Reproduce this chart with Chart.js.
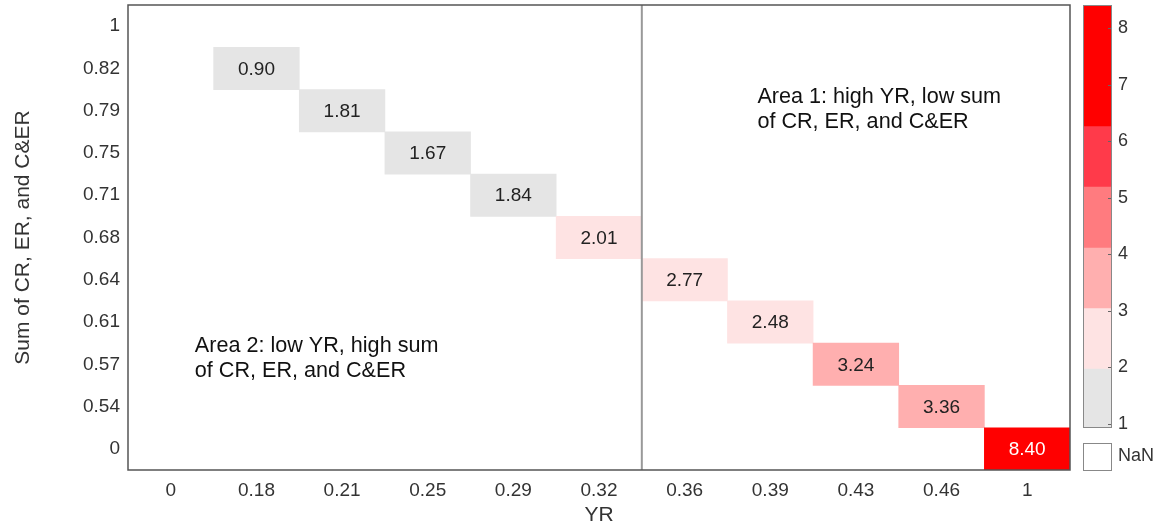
<!DOCTYPE html>
<html>
<head>
<meta charset="utf-8">
<script src="https://cdn.jsdelivr.net/npm/chart.js@4.4.1/dist/chart.umd.min.js"></script>
<style>
  body { margin: 0; background: #fff; }
  #wrap { position: relative; width: 1157px; height: 531px; font-family: "Liberation Sans", Arial, sans-serif; }
  #heat { position: absolute; left: 0; top: 0; }
  #bar { position: absolute; left: 1083px; top: 0; }
  #nanBox { position: absolute; left: 1083px; top: 443px; width: 27px; height: 26px; border: 1px solid #888; background: #fff; }
  #nanText { position: absolute; left: 1118px; top: 445px; font-size: 18px; color: #333; }
</style>
</head>
<body>
<div id="wrap">
  <canvas id="heat" width="1157" height="531"></canvas>
  <canvas id="bar" width="74" height="531"></canvas>
  <div id="nanBox"></div>
  <div id="nanText">NaN</div>
</div>
<script>
// categories
var xLabels = ['0', '0.18', '0.21', '0.25', '0.29', '0.32', '0.36', '0.39', '0.43', '0.46', '1'];
var yLabels = ['0', '0.54', '0.57', '0.61', '0.64', '0.68', '0.71', '0.75', '0.79', '0.82', '1'];

// filled cells
var cellX = ['0.18', '0.21', '0.25', '0.29', '0.32', '0.36', '0.39', '0.43', '0.46', '1'];
var cellY = ['0.82', '0.79', '0.75', '0.71', '0.68', '0.64', '0.61', '0.57', '0.54', '0'];
var cellValues = [0.90, 1.81, 1.67, 1.84, 2.01, 2.77, 2.48, 3.24, 3.36, 8.40];

// colour bar
var binEdges = [0.93, 1.97, 3.04, 4.11, 5.19, 6.26, 8.41];
var binColors = ['#e5e5e5', '#fee3e3', '#ffafaf', '#ff7b7f', '#ff3a4a', '#ff0000'];
var colorTicks = [1, 2, 3, 4, 5, 6, 7, 8];

var FONT = '"Liberation Sans", Arial, sans-serif';

function binColor(v) {
  for (var i = 0; i < binColors.length; i++) {
    if (v < binEdges[i + 1]) return binColors[i];
  }
  return binColors[binColors.length - 1];
}

var cells = cellX.map(function(x, i) {
  var yi = yLabels.indexOf(cellY[i]);
  return { x: x, y: [yi - 0.5, yi + 0.5], v: cellValues[i] };
});

var heatPlugin = {
  id: 'heatExtras',
  afterDatasetsDraw: function(chart) {
    var c = chart.ctx, area = chart.chartArea;
    var xs = chart.scales.x, ys = chart.scales.y;
    // value labels
    var meta = chart.getDatasetMeta(0);
    c.save();
    c.font = '19px ' + FONT;
    c.textAlign = 'center';
    c.textBaseline = 'middle';
    meta.data.forEach(function(el, i) {
      var v = cellValues[i];
      c.fillStyle = v > binEdges[5] ? '#ffffff' : '#222222';
      c.fillText(v.toFixed(2), el.x, (el.y + el.base) / 2 + 1);
    });
    // divider between low and high YR
    var xm = (xs.getPixelForTick(5) + xs.getPixelForTick(6)) / 2;
    c.strokeStyle = '#999999';
    c.lineWidth = 2;
    c.beginPath();
    c.moveTo(xm, area.top);
    c.lineTo(xm, area.bottom);
    c.stroke();
    // area notes
    c.font = '21.6px ' + FONT;
    c.fillStyle = '#111111';
    c.textAlign = 'left';
    var unit = xs.getPixelForTick(1) - xs.getPixelForTick(0);
    var x1 = xs.getPixelForTick(6) + 0.85 * unit;
    var y1 = ys.getPixelForValue(8.32);
    c.fillText('Area 1: high YR, low sum', x1, y1);
    c.fillText('of CR, ER, and C&ER', x1, y1 + 25);
    var x2 = xs.getPixelForTick(0) + 0.28 * unit;
    var y2 = ys.getPixelForValue(2.44);
    c.fillText('Area 2: low YR, high sum', x2, y2);
    c.fillText('of CR, ER, and C&ER', x2, y2 + 25);
    // frame
    c.strokeStyle = '#555555';
    c.lineWidth = 1.5;
    c.strokeRect(area.left, area.top, area.right - area.left, area.bottom - area.top);
    c.restore();
  }
};

new Chart(document.getElementById('heat'), {
  type: 'bar',
  data: {
    labels: xLabels,
    datasets: [{
      data: cells,
      backgroundColor: function(ctx) { return ctx.raw ? binColor(ctx.raw.v) : '#fff'; },
      borderWidth: 0,
      barPercentage: 1,
      categoryPercentage: 1
    }]
  },
  options: {
    responsive: false,
    animation: false,
    events: [],
    layout: { padding: { left: 0, right: 87, top: 5, bottom: 0 } },
    plugins: { legend: { display: false }, tooltip: { enabled: false } },
    scales: {
      x: {
        grid: { display: false, drawTicks: false },
        border: { display: false },
        ticks: { color: '#333', font: { family: FONT, size: 19 }, padding: 9, maxRotation: 0, autoSkip: false },
        title: { display: true, text: 'YR', color: '#333', font: { family: FONT, size: 21 }, padding: { top: 0, bottom: 3 } },
        afterFit: function(s) { s.height = 61; s.paddingLeft = 0; s.paddingRight = 0; }
      },
      y: {
        type: 'linear',
        min: -0.5,
        max: 10.5,
        grid: { display: false, drawTicks: false },
        border: { display: false },
        afterBuildTicks: function(s) { s.ticks = yLabels.map(function(_, i) { return { value: i }; }); },
        ticks: {
          color: '#333',
          font: { family: FONT, size: 19 },
          padding: 8,
          callback: function(v) { return yLabels[v]; }
        },
        title: { display: true, text: 'Sum of CR, ER, and C&ER', color: '#333', font: { family: FONT, size: 21 }, padding: { top: 11, bottom: 0 } },
        afterFit: function(s) { s.width = 128; s.paddingTop = 0; s.paddingBottom = 0; }
      }
    }
  },
  plugins: [heatPlugin]
});

// colour bar
var barPlugin = {
  id: 'barFrame',
  afterDraw: function(chart) {
    var c = chart.ctx, area = chart.chartArea, ys = chart.scales.y;
    c.save();
    c.strokeStyle = '#666666';
    c.lineWidth = 1;
    colorTicks.forEach(function(t) {
      var py = Math.round(ys.getPixelForValue(t)) + 0.5;
      c.beginPath();
      c.moveTo(area.right - 4, py);
      c.lineTo(area.right, py);
      c.stroke();
    });
    c.strokeStyle = '#888888';
    c.strokeRect(area.left + 0.5, area.top + 0.5, area.right - area.left - 1, area.bottom - area.top - 1);
    c.restore();
  }
};

new Chart(document.getElementById('bar'), {
  type: 'bar',
  data: {
    labels: ['c'],
    datasets: binColors.map(function(col, i) {
      return {
        data: [[binEdges[i], binEdges[i + 1]]],
        backgroundColor: col,
        borderWidth: 0,
        barPercentage: 1,
        categoryPercentage: 1,
        grouped: false
      };
    })
  },
  options: {
    responsive: false,
    animation: false,
    events: [],
    layout: { padding: { left: 0, right: 0, top: 5, bottom: 103 } },
    plugins: { legend: { display: false }, tooltip: { enabled: false } },
    scales: {
      x: { display: false },
      y: {
        position: 'right',
        min: binEdges[0],
        max: binEdges[binEdges.length - 1],
        grid: { display: false, drawTicks: false },
        border: { display: false },
        afterBuildTicks: function(s) { s.ticks = colorTicks.map(function(t) { return { value: t }; }); },
        ticks: { color: '#333', font: { family: FONT, size: 18 }, padding: 6 },
        afterFit: function(s) { s.width = 45; s.paddingTop = 0; s.paddingBottom = 0; }
      }
    }
  },
  plugins: [barPlugin]
});
</script>
</body>
</html>
